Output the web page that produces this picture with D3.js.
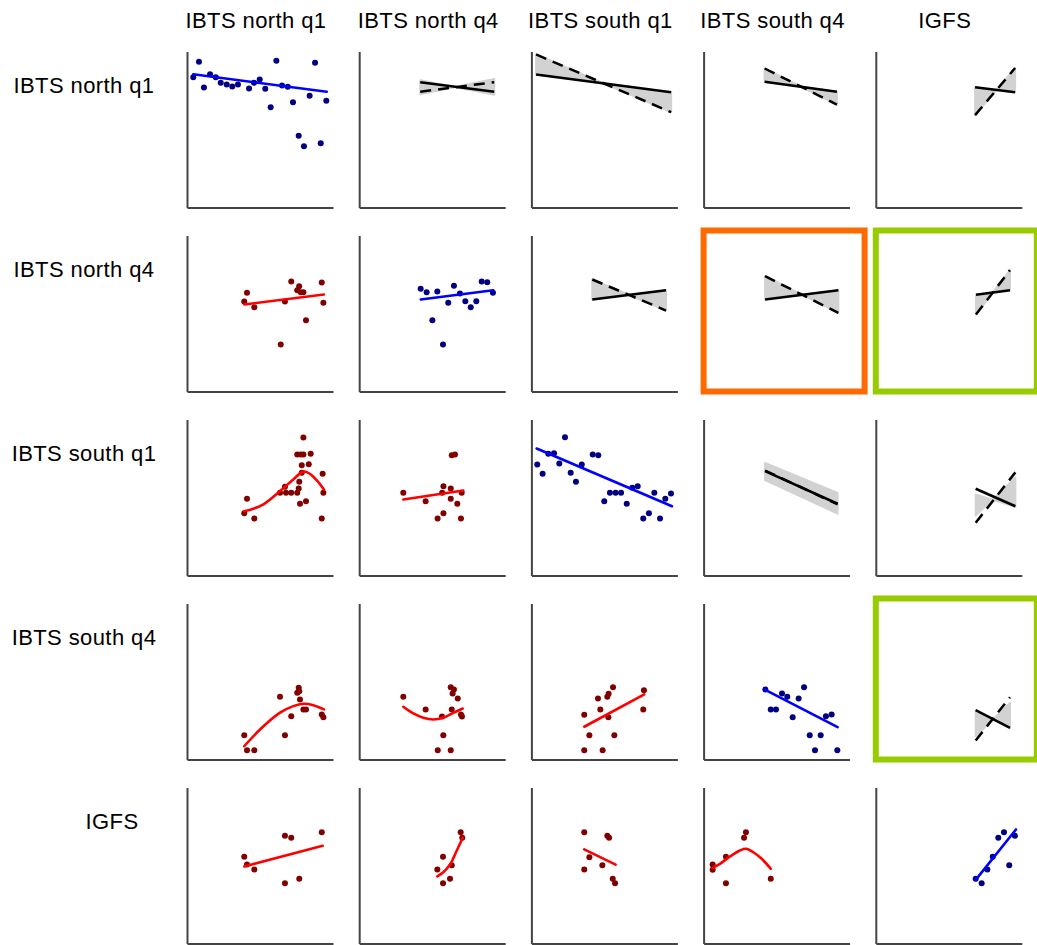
<!DOCTYPE html>
<html>
<head>
<meta charset="utf-8">
<script src="https://cdn.jsdelivr.net/npm/d3@7"></script>
<style>
  html, body { margin: 0; padding: 0; background: #fff; }
  svg { display: block; }
  text { font-family: "Liberation Sans", Arial, sans-serif; fill: #000; }
</style>
</head>
<body>
<svg id="chart" width="1037" height="945"></svg>
<script>
// Survey names (columns and rows of the matrix)
const surveys = ["IBTS north q1", "IBTS north q4", "IBTS south q1", "IBTS south q4", "IGFS"];

// ---- Diagonal panels: index series against time, with linear trend ----
const x00 = [4.3, 8.2, 11.6, 15.8, 19.7, 23.1, 27.2, 31.0, 34.9, 42.5, 45.9, 49.8, 53.6, 57.3, 61.2, 65.1, 69.0, 72.6, 76.5, 80.1, 84.0, 87.7, 91.6, 95.4];
const y00 = [83.5, 93.4, 76.9, 85.4, 83.5, 79.9, 78.8, 77.6, 78.8, 76.3, 79.9, 82.1, 76.1, 64.3, 94.0, 78.2, 77.4, 67.5, 46.0, 39.3, 71.6, 92.8, 41.2, 68.4];
const fx00 = [4.3, 95.7], fy00 = [85.4, 74.2];

const x11 = [42.1, 46.2, 53.5, 61.0, 64.9, 69.0, 72.7, 76.4, 80.2, 83.9, 87.7, 91.6, 50.1, 57.4];
const y11 = [65.8, 63.7, 64.1, 56.9, 67.8, 62.8, 57.9, 54.0, 57.9, 70.5, 70.1, 63.3, 45.7, 30.1];
const fx11 = [42.1, 91.8], fy11 = [59.0, 64.9];

const x22 = [4.0, 7.7, 11.6, 15.5, 19.1, 23.0, 26.9, 30.5, 34.5, 42.0, 45.8, 49.9, 53.8, 57.7, 61.4, 65.3, 69.1, 72.8, 76.6, 80.5, 84.2, 88.1, 91.7, 95.6];
const y22 = [71.2, 65.2, 78.0, 78.4, 71.8, 88.7, 65.8, 60.1, 71.2, 77.6, 77.1, 47.6, 53.0, 53.0, 53.0, 46.0, 56.2, 57.2, 36.5, 39.9, 53.0, 36.5, 49.2, 52.6];
const fx22 = [3.6, 96.3], fy22 = [81.4, 44.4];

const x33 = [42.3, 46.0, 49.6, 53.7, 57.3, 61.0, 65.1, 68.8, 72.7, 76.3, 80.2, 83.8, 87.7, 91.6];
const y33 = [44.9, 32.1, 32.1, 42.3, 40.2, 27.1, 39.1, 46.3, 15.6, 6.0, 15.6, 27.8, 28.8, 6.0];
const fx33 = [41.6, 91.8], fy33 = [44.9, 20.7];

const x44 = [68.4, 72.5, 76.4, 80.1, 83.9, 87.8, 91.4, 95.3];
const y44 = [41.5, 38.7, 47.4, 55.6, 67.8, 71.3, 50.2, 69.0];
const fx44 = [68.4, 96.0], fy44 = [40.8, 73.1];

// ---- Lower panels: pairwise scatter with fitted line or smoother ----
const x10 = [39.2, 41.1, 46.1, 64.2, 67.1, 71.4, 75.5, 76.8, 77.9, 79.7, 81.5, 92.3, 93.4];
const y10 = [57.7, 63.3, 54.0, 30.1, 57.7, 70.5, 64.9, 67.5, 63.7, 63.7, 45.7, 69.9, 56.9];
const fx10 = [39.2, 93.8], fy10 = [55.8, 62.2];

const x20 = [39.2, 41.1, 46.1, 63.7, 67.1, 67.8, 71.4, 75.5, 76.5, 76.9, 77.4, 75.5, 77.9, 79.7, 78.6, 83.4, 84.7, 79.7, 78.6, 81.5, 92.9, 93.4, 92.3];
const y20 = [39.9, 49.2, 36.5, 53.0, 56.9, 53.0, 53.0, 53.0, 55.8, 60.1, 46.0, 77.6, 77.6, 77.6, 70.7, 71.3, 78.0, 88.5, 65.8, 47.6, 65.2, 53.0, 36.5];
const fx20 = [39.2, 45.4, 52.3, 63.7, 72.8, 79.7, 84.2, 88.8, 93.8];
const fy20 = [41.2, 42.8, 45.6, 54.1, 61.6, 66.6, 65.2, 61.1, 55.1];

const x21 = [30.2, 45.5, 53.7, 57.7, 57.7, 56.8, 62.7, 62.7, 63.4, 65.6, 67.2, 69.7, 70.2];
const y21 = [53.0, 47.6, 36.5, 39.9, 57.2, 53.0, 55.8, 49.2, 77.1, 77.6, 46.0, 36.5, 53.0];
const fx21 = [30.2, 71.3], fy21 = [48.7, 54.5];

const x30 = [39.2, 41.1, 46.1, 63.7, 67.1, 71.4, 75.5, 76.5, 76.9, 77.4, 79.7, 81.5, 92.3, 93.4];
const y30 = [15.6, 6.0, 6.0, 40.2, 15.6, 27.8, 42.8, 46.0, 43.8, 38.5, 32.1, 32.1, 28.8, 27.1];
const fx30 = [39.2, 50.0, 63.7, 72.8, 79.7, 86.5, 93.8];
const fy30 = [8.5, 19.2, 30.0, 34.2, 35.7, 34.8, 32.1];

const x31 = [30.2, 45.5, 53.8, 57.6, 56.7, 62.7, 63.4, 62.7, 64.9, 64.0, 67.5, 69.7, 70.4];
const y31 = [40.2, 32.1, 6.0, 15.6, 27.6, 6.0, 32.1, 46.3, 44.9, 42.3, 39.1, 28.8, 27.6];
const fx31 = [30.2, 37.1, 43.9, 50.8, 57.6, 64.5, 70.9];
const fy31 = [33.8, 29.5, 26.7, 25.6, 26.7, 29.9, 32.7];

const x32 = [36.2, 39.7, 36.2, 45.6, 47.2, 48.8, 52.0, 52.9, 52.7, 55.9, 56.8, 77.1, 76.6];
const y32 = [28.7, 15.6, 6.0, 39.1, 32.1, 6.0, 40.2, 42.1, 27.1, 46.3, 15.6, 44.4, 32.1];
const fx32 = [36.2, 77.3], fy32 = [21.0, 41.7];

const x40 = [39.2, 41.1, 46.1, 67.1, 71.4, 67.1, 76.9, 92.3];
const y40 = [55.6, 50.6, 47.4, 69.0, 67.8, 38.7, 41.5, 71.3];
const fx40 = [39.2, 92.9], fy40 = [49.4, 62.6];

const x41 = [53.5, 57.4, 57.4, 62.2, 63.4, 69.5, 70.6];
const y41 = [47.4, 55.6, 38.7, 41.5, 50.2, 71.3, 67.8];
const fx41 = [53.5, 57.6, 62.2, 66.3, 70.9];
const fy41 = [43.1, 45.7, 50.6, 58.5, 67.8];

const x42 = [36.2, 52.0, 53.2, 39.7, 36.2, 48.6, 55.7, 57.3];
const y42 = [71.3, 69.0, 67.8, 55.3, 47.4, 50.2, 41.5, 38.7];
const fx42 = [36.2, 57.7], fy42 = [60.3, 50.6];

const x43 = [6.2, 6.2, 15.3, 15.3, 27.7, 29.0, 46.0];
const y43 = [50.6, 47.2, 55.6, 38.7, 67.8, 71.3, 41.5];
const fx43 = [6.2, 11.2, 18.1, 24.9, 29.0, 34.0, 39.8, 46.0];
const fy43 = [48.5, 51.1, 55.8, 59.6, 60.7, 58.5, 54.3, 47.9];

// ---- Upper panels: model slopes (solid), alternative (dashed), uncertainty band ----
// span: [x start, x end]; each line / band edge: [y at start, y at end]
const span01 = [41.8, 92.5], solid01 = [80.3, 74.2], dash01 = [74.2, 80.3], bandA01 = [81.6, 72.2], bandB01 = [72.6, 82.4];
const span02 = [3.2, 95.7],  solid02 = [85.3, 73.9], dash02 = [98.1, 61.1], bandA02 = [85.3, 73.9], bandB02 = [98.1, 61.1];
const span03 = [41.8, 91.3], solid03 = [80.6, 74.2], dash03 = [89.1, 66.0], bandA03 = [80.6, 74.2], bandB03 = [89.1, 66.0];
const span04 = [68.0, 95.4], solid04 = [77.1, 73.9], dash04 = [59.2, 89.4], bandA04 = [77.1, 73.9], bandB04 = [59.2, 89.4];
const span12 = [41.7, 92.2], solid12 = [59.0, 64.9], dash12 = [71.8, 51.9], bandA12 = [59.0, 64.9], bandB12 = [71.8, 51.9];
const span13 = [42.1, 92.3], solid13 = [59.0, 64.9], dash13 = [73.9, 50.4], bandA13 = [59.0, 64.9], bandB13 = [73.9, 50.4];
const span14 = [68.6, 91.9], solid14 = [62.0, 64.9], dash14 = [49.4, 77.8], bandA14 = [62.0, 64.9], bandB14 = [49.4, 77.8];
const span23 = [42.1, 91.8], solid23 = [66.9, 46.0], dash23 = [67.3, 45.6], bandA23 = [72.2, 53.0], bandB23 = [61.1, 39.7];
const span24 = [68.4, 95.6], solid24 = [55.6, 44.4], dash24 = [33.8, 66.1], bandA24 = [51.9, 44.0], bandB24 = [38.5, 62.6];
const span34 = [68.4, 91.9], solid34 = [31.6, 20.3], dash34 = [12.2, 39.9], bandA34 = [31.6, 20.3], bandB34 = [14.9, 36.3];

// Highlight frames around selected panels
const highlights = [
  { row: 1, col: 3, color: "#ff6a00" },
  { row: 1, col: 4, color: "#99cc00" },
  { row: 3, col: 4, color: "#99cc00" }
];

// Layout
const gridLeft = 187, gridTop = 51.5, colStep = 172.2, rowStep = 184;
const panelW = 146, panelH = 156;
const rowLabelX = [84, 84, 84, 84, 112];

const svg = d3.select("#chart");

// Build the panel table from the named arrays
const scatter = {
  "0,0": [x00, y00, fx00, fy00, "diag"],
  "1,1": [x11, y11, fx11, fy11, "diag"],
  "2,2": [x22, y22, fx22, fy22, "diag"],
  "3,3": [x33, y33, fx33, fy33, "diag"],
  "4,4": [x44, y44, fx44, fy44, "diag"],
  "1,0": [x10, y10, fx10, fy10, "off"],
  "2,0": [x20, y20, fx20, fy20, "off"],
  "2,1": [x21, y21, fx21, fy21, "off"],
  "3,0": [x30, y30, fx30, fy30, "off"],
  "3,1": [x31, y31, fx31, fy31, "off"],
  "3,2": [x32, y32, fx32, fy32, "off"],
  "4,0": [x40, y40, fx40, fy40, "off"],
  "4,1": [x41, y41, fx41, fy41, "off"],
  "4,2": [x42, y42, fx42, fy42, "off"],
  "4,3": [x43, y43, fx43, fy43, "off"]
};
const compare = {
  "0,1": [span01, solid01, dash01, bandA01, bandB01],
  "0,2": [span02, solid02, dash02, bandA02, bandB02],
  "0,3": [span03, solid03, dash03, bandA03, bandB03],
  "0,4": [span04, solid04, dash04, bandA04, bandB04],
  "1,2": [span12, solid12, dash12, bandA12, bandB12],
  "1,3": [span13, solid13, dash13, bandA13, bandB13],
  "1,4": [span14, solid14, dash14, bandA14, bandB14],
  "2,3": [span23, solid23, dash23, bandA23, bandB23],
  "2,4": [span24, solid24, dash24, bandA24, bandB24],
  "3,4": [span34, solid34, dash34, bandA34, bandB34]
};

const x = d3.scaleLinear().domain([0, 100]).range([0, panelW]);
const y = d3.scaleLinear().domain([0, 100]).range([panelH, 0]);
const line = d3.line().x(d => x(d[0])).y(d => y(d[1]));
const smooth = d3.line().x(d => x(d[0])).y(d => y(d[1])).curve(d3.curveCatmullRom.alpha(0.5));

const labelStyle = sel => sel
  .attr("text-anchor", "middle")
  .style("font-size", "22px")
  .style("letter-spacing", "0.4px");

// Column titles
svg.selectAll("text.col-title")
  .data(surveys)
  .join("text")
  .attr("class", "col-title")
  .attr("x", (d, i) => gridLeft + i * colStep + panelW / 2 - 4)
  .attr("y", 28)
  .call(labelStyle)
  .text(d => d);

// Row labels
svg.selectAll("text.row-title")
  .data(surveys)
  .join("text")
  .attr("class", "row-title")
  .attr("x", (d, i) => rowLabelX[i])
  .attr("y", (d, i) => gridTop + i * rowStep + 41)
  .call(labelStyle)
  .text(d => d);

for (let r = 0; r < 5; r++) {
  for (let c = 0; c < 5; c++) {
    const g = svg.append("g")
      .attr("transform", `translate(${gridLeft + c * colStep},${gridTop + r * rowStep})`);
    const key = r + "," + c;

    if (compare[key]) {
      const [span, solid, dash, bandA, bandB] = compare[key];
      const band = [
        [span[0], bandA[0]], [span[1], bandA[1]],
        [span[1], bandB[1]], [span[0], bandB[0]]
      ];
      g.append("path")
        .attr("d", line(band) + "Z")
        .attr("fill", "#d2d2d2")
        .attr("stroke", "#d2d2d2")
        .attr("stroke-width", 2)
        .attr("stroke-linejoin", "round");
      g.append("path")
        .attr("d", line([[span[0], dash[0]], [span[1], dash[1]]]))
        .attr("fill", "none")
        .attr("stroke", "#000")
        .attr("stroke-width", 2.5)
        .attr("stroke-dasharray", "11,7");
      g.append("path")
        .attr("d", line([[span[0], solid[0]], [span[1], solid[1]]]))
        .attr("fill", "none")
        .attr("stroke", "#000")
        .attr("stroke-width", 2.5);
    }

    if (scatter[key]) {
      const [px, py, fx, fy, kind] = scatter[key];
      const diag = kind === "diag";
      g.selectAll("circle")
        .data(px.map((v, i) => [v, py[i]]))
        .join("circle")
        .attr("cx", d => x(d[0]))
        .attr("cy", d => y(d[1]))
        .attr("r", 3)
        .attr("fill", diag ? "#000080" : "#800000");
      const fit = fx.map((v, i) => [v, fy[i]]);
      g.append("path")
        .attr("d", (fit.length > 2 ? smooth : line)(fit))
        .attr("fill", "none")
        .attr("stroke", diag ? "#0000ff" : "#ff0000")
        .attr("stroke-width", 2.6)
        .attr("stroke-linecap", "round");
    }

    // Axis lines (no ticks)
    g.append("g")
      .call(d3.axisLeft(y).ticks(0).tickSizeOuter(0))
      .call(a => a.select(".domain").attr("stroke", "#444").attr("stroke-width", 2));
    g.append("g")
      .attr("transform", `translate(0,${panelH})`)
      .call(d3.axisBottom(x).ticks(0).tickSizeOuter(0))
      .call(a => a.select(".domain").attr("stroke", "#444").attr("stroke-width", 2));
  }
}

// Highlight frames
highlights.forEach(h => {
  const left = gridLeft + h.col * colStep;
  const bottom = gridTop + h.row * rowStep + panelH;
  svg.append("rect")
    .attr("x", left)
    .attr("y", bottom - 161)
    .attr("width", 161)
    .attr("height", 161)
    .attr("fill", "none")
    .attr("stroke", h.color)
    .attr("stroke-width", 6);
});
</script>
</body>
</html>
